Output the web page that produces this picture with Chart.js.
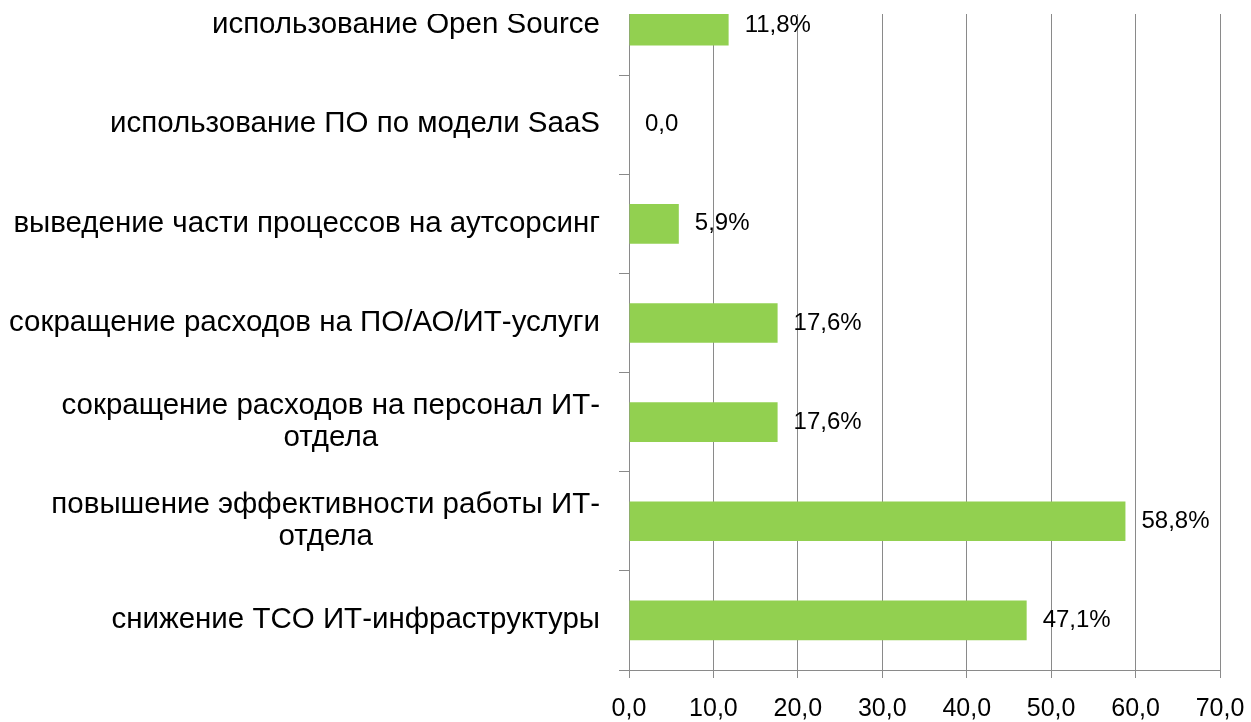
<!DOCTYPE html>
<html>
<head>
<meta charset="utf-8">
<script src="https://cdn.jsdelivr.net/npm/chart.js@4/dist/chart.umd.min.js"></script>
<style>
  html, body { margin: 0; padding: 0; background: #ffffff; overflow: hidden; width: 1251px; height: 722px; }
  #clip { position: absolute; left: 0; top: 14px; width: 1251px; height: 708px; overflow: hidden; }
  #box { position: absolute; left: 0; top: -38px; width: 1251px; height: 746px; }
</style>
</head>
<body>
<div id="clip"><div id="box"><canvas id="c"></canvas></div></div>
<script>
const categories = [
  ['использование Open Source'],
  ['использование ПО по модели SaaS'],
  ['выведение части процессов на аутсорсинг'],
  ['сокращение расходов на ПО/АО/ИТ-услуги'],
  ['сокращение расходов на персонал ИТ-', 'отдела'],
  ['повышение эффективности работы ИТ-', 'отдела'],
  ['снижение TCO ИТ-инфраструктуры']
];
const values = [11.8, 0.0, 5.9, 17.6, 17.6, 58.8, 47.1];
const valueLabels = ['11,8%', '0,0', '5,9%', '17,6%', '17,6%', '58,8%', '47,1%'];
const xTickLabels = ['0,0', '10,0', '20,0', '30,0', '40,0', '50,0', '60,0', '70,0'];

const FONT = '"Liberation Sans", Arial, sans-serif';
const GRID = '#8a8a8a';
const CAT_FS = 29.5;

const labelPlugin = {
  id: 'labels',
  afterDatasetsDraw(chart) {
    const ctx = chart.ctx;
    const meta = chart.getDatasetMeta(0);
    ctx.save();
    ctx.font = '24px ' + FONT;
    ctx.fillStyle = '#000';
    ctx.textBaseline = 'middle';
    ctx.textAlign = 'left';
    meta.data.forEach((bar, i) => {
      ctx.fillText(valueLabels[i], bar.x + 16, bar.y);
    });
    // category labels
    const ys = chart.scales.y;
    const rightEdge = ys.right - 29;
    ctx.font = CAT_FS + 'px ' + FONT;
    ctx.textAlign = 'center';
    ctx.textBaseline = 'alphabetic';
    const lh = 32;
    categories.forEach((lines, i) => {
      const cy = ys.getPixelForTick(i) + 0.26 * CAT_FS;
      const w = Math.max(...lines.map(l => ctx.measureText(l).width));
      const cx = rightEdge - w / 2;
      const y0 = cy - (lines.length - 1) * lh / 2;
      lines.forEach((l, k) => ctx.fillText(l, cx, y0 + k * lh));
    });
    ctx.restore();
  }
};

new Chart(document.getElementById('c'), {
  type: 'bar',
  data: {
    labels: categories,
    datasets: [{
      data: values,
      backgroundColor: '#92d050',
      borderWidth: 0,
      barPercentage: 0.4,
      categoryPercentage: 1.0
    }]
  },
  options: {
    indexAxis: 'y',
    responsive: true,
    maintainAspectRatio: false,
    animation: false,
    layout: { padding: { top: 0, right: 31, bottom: 0, left: 0 } },
    plugins: { legend: { display: false }, tooltip: { enabled: false } },
    scales: {
      x: {
        min: 0, max: 70,
        ticks: {
          stepSize: 10,
          color: '#000',
          font: { family: FONT, size: 25 },
          padding: 16,
          maxRotation: 0,
          callback: (v, i) => xTickLabels[i]
        },
        grid: { color: GRID, lineWidth: 1, tickLength: 8 },
        border: { color: GRID, width: 1 },
        afterFit: s => { s.height = 52; s.paddingRight = 0; s.paddingLeft = 0; }
      },
      y: {
        offset: true,
        ticks: { display: false },
        grid: { drawOnChartArea: false, color: GRID, tickLength: 10, offset: true },
        border: { color: GRID, width: 1 },
        afterFit: s => { s.width = 629; }
      }
    }
  },
  plugins: [labelPlugin]
});
</script>
</body>
</html>
